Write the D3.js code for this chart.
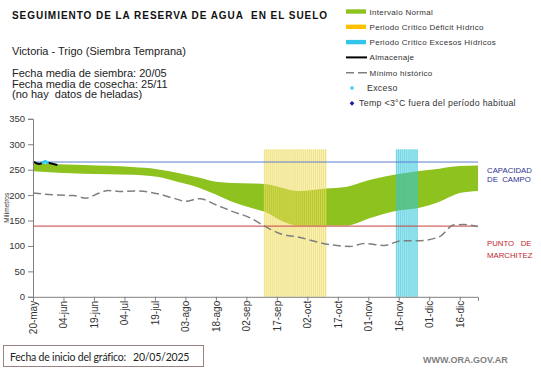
<!DOCTYPE html>
<html>
<head>
<meta charset="utf-8">
<style>
    body {
        margin: 0;
        background: #fff;
    }

    svg {
        display: block;
        font-family: Arial, "Liberation Sans", sans-serif;
    }

    .tick line, .domain {
        stroke: #808080;
    }

    .y .tick text {
        font-size: 9.5px;
        fill: #333;
    }

    .x .tick text {
        font-size: 10px;
        fill: #333;
    }

    .title {
        font-size: 10px;
        font-weight: bold;
        fill: #111;
        letter-spacing: 0.95px;
    }

    .sub {
        font-size: 11px;
        fill: #222;
    }

    .leg {
        font-size: 8px;
        fill: #333;
        letter-spacing: 0.3px;
    }

    .leg.big {
        font-size: 8.8px;
        letter-spacing: 0.3px;
    }

    .side {
        font-size: 7.8px;
    }

    .footer {
        font-family: Lato, "Open Sans", sans-serif;
        font-size: 10.5px;
        fill: #222;
        letter-spacing: -0.2px;
    }

    .web {
        font-size: 9px;
        font-weight: bold;
        fill: #7f7f7f;
    }
</style>
</head>
<body>
<svg width="541" height="368"></svg>

<script src="https://d3js.org/d3.v7.min.js"></script>
<script>
    // dias contados desde el inicio del grafico (20/05/2025)
    let startDate = new Date(2025, 4, 20)
    let endDate = new Date(2025, 11, 25)

    let tickDays = [0, 15, 30, 45, 60, 75, 90, 105, 120, 135, 150, 165, 180, 195, 210]
    let tickLabels = ["20-may", "04-jun", "19-jun", "04-jul", "19-jul", "03-ago", "18-ago",
        "02-sep", "17-sep", "02-oct", "17-oct", "01-nov", "16-nov", "01-dic", "16-dic"]
    let yTicks = [0, 50, 100, 150, 200, 250, 300, 350]

    // intervalo normal
    let bandDays = [0, 25, 49, 61, 72, 82, 90, 98, 108, 116, 121, 131, 144, 154, 166, 179, 189, 200, 210, 219]
    let bandUpper = [262, 259, 255, 251, 243, 234, 226, 224, 223, 221, 216, 208, 213, 216, 230, 241, 247, 252, 257, 258]
    let bandLower = [247, 242, 240, 236, 225, 214, 201, 187, 174, 164, 152, 140, 140, 140, 155, 169, 174, 187, 204, 208]

    // minimo historico
    let minDays = [0, 12, 20, 26, 32, 37, 44, 50, 57, 62, 70, 75, 82, 90, 98, 107, 114, 121, 131, 144, 156, 163, 173, 181, 189, 200, 207, 212, 219]
    let minVals = [204, 200, 199, 194, 203, 209, 207, 208, 206, 202, 193, 188, 193, 181, 168, 155, 139, 125, 117, 104, 99, 105, 101, 110, 110, 118, 141, 142, 138]

    // almacenaje
    let almDays = [0, 1, 2, 3, 4, 5, 6, 7, 8, 9, 10, 11, 12]
    let almVals = [265, 264, 262, 261, 262, 264, 266, 264, 263, 262, 261, 260, 259]

    let excesoDays = [5, 6, 7]
    let excesoVals = [264, 266, 264]

    let capacidad = 265
    let marchitez = 139

    let deficitPeriod = [new Date(2025, 8, 11), new Date(2025, 9, 12)]
    let excesoPeriod = [new Date(2025, 10, 15), new Date(2025, 10, 26)]
    let periodTop = 290

    let svg = d3.select("svg")

    let margin = { top: 119, right: 63, bottom: 71, left: 33 }
    let width = 541
    let height = 368

    let day = d => d3.timeDay.offset(startDate, d)

    let x = d3.scaleTime()
        .domain([startDate, endDate])
        .range([margin.left, width - margin.right])

    let y = d3.scaleLinear()
        .domain([0, 350])
        .range([height - margin.bottom - 0.2, margin.top - 0.2])

    let band = bandDays.map((d, i) => ({ date: day(d), hi: bandUpper[i], lo: bandLower[i] }))
    let minHist = minDays.map((d, i) => ({ date: day(d), v: minVals[i] }))
    let alm = almDays.map((d, i) => ({ date: day(d), v: almVals[i] }))
    let exc = excesoDays.map((d, i) => ({ date: day(d), v: excesoVals[i] }))

    // banda verde
    svg.append("path")
        .datum(band)
        .attr("fill", "#8dc21f")
        .attr("d", d3.area()
            .x(d => x(d.date))
            .y0(d => y(d.lo))
            .y1(d => y(d.hi))
            .curve(d3.curveMonotoneX))

    // periodos criticos, una barra por dia
    function stripes(period, color) {
        let days = d3.timeDay.range(period[0], period[1])
        let w = x(day(1)) - x(startDate)
        let g = svg.append("g")
        g.append("rect")
            .attr("x", x(days[0]) - w / 2)
            .attr("y", y(periodTop))
            .attr("width", w * days.length)
            .attr("height", y(0) - y(periodTop))
            .attr("fill", color)
            .attr("opacity", 0.3)
        g.selectAll(".st")
            .data(days)
            .join("rect")
            .attr("class", "st")
            .attr("x", d => x(d) - 0.6)
            .attr("y", y(periodTop))
            .attr("width", 1.2)
            .attr("height", y(0) - y(periodTop))
            .attr("fill", color)
            .attr("opacity", 0.65)
    }
    stripes(deficitPeriod, "#eedb5c")
    stripes(excesoPeriod, "#34c6dc")

    // capacidad de campo / punto de marchitez
    svg.append("line")
        .attr("x1", x(startDate)).attr("x2", x(endDate))
        .attr("y1", y(capacidad)).attr("y2", y(capacidad))
        .attr("stroke", "#5b7fd0").attr("stroke-width", 1)

    svg.append("line")
        .attr("x1", x(startDate)).attr("x2", x(endDate))
        .attr("y1", y(marchitez)).attr("y2", y(marchitez))
        .attr("stroke", "#c8423e").attr("stroke-width", 1)

    // minimo historico
    svg.append("path")
        .datum(minHist)
        .attr("fill", "none")
        .attr("stroke", "#7f7f7f")
        .attr("stroke-width", 1.5)
        .attr("stroke-dasharray", "8,4")
        .attr("d", d3.line()
            .x(d => x(d.date))
            .y(d => y(d.v))
            .curve(d3.curveMonotoneX))

    // almacenaje
    svg.append("path")
        .datum(alm)
        .attr("fill", "none")
        .attr("stroke", "#000")
        .attr("stroke-width", 2)
        .attr("d", d3.line()
            .x(d => x(d.date))
            .y(d => y(d.v)))

    svg.append("g")
        .selectAll("rect")
        .data(exc)
        .join("rect")
        .attr("x", d => x(d.date) - 1.5)
        .attr("y", d => y(d.v) - 1.5)
        .attr("width", 3)
        .attr("height", 3)
        .attr("fill", "#33ccee")

    // ejes
    let xAxis = svg.append("g")
        .attr("class", "x axis")
        .attr("transform", `translate(0,${y(0)})`)
        .call(d3.axisBottom(x)
            .tickValues(tickDays.map(day))
            .tickFormat((d, i) => tickLabels[i])
            .tickSizeOuter(0)
            .tickSize(4)
            .tickPadding(4))

    xAxis.selectAll(".tick text")
        .attr("transform", "rotate(-90)")
        .attr("text-anchor", "end")
        .attr("x", -4)
        .attr("y", 0)
        .attr("dy", "0.35em")

    svg.append("g")
        .attr("class", "y axis")
        .attr("transform", `translate(${margin.left},0)`)
        .call(d3.axisLeft(y)
            .tickValues(yTicks)
            .tickSizeOuter(0)
            .tickSize(5)
            .tickPadding(3))

    svg.append("text")
        .attr("transform", `translate(9,${y(175)}) rotate(-90)`)
        .attr("text-anchor", "middle")
        .style("font-size", "6.5px")
        .style("fill", "#333")
        .text("Milímetros")

    // textos
    svg.append("text").attr("class", "title").attr("x", 12).attr("y", 19)
        .style("white-space", "pre")
        .text("SEGUIMIENTO DE LA RESERVA DE AGUA  EN EL SUELO")

    svg.append("text").attr("class", "sub").attr("x", 12).attr("y", 54.5)
        .text("Victoria - Trigo (Siembra Temprana)")

    let notes = ["Fecha media de siembra: 20/05", "Fecha media de cosecha: 25/11", "(no hay  datos de heladas)"]
    svg.append("g").selectAll("text")
        .data(notes)
        .join("text")
        .attr("class", "sub")
        .attr("x", 12)
        .attr("y", (d, i) => 77 + i * 10.5)
        .style("white-space", "pre")
        .text(d => d)

    svg.append("text").attr("class", "side").attr("x", 487).attr("y", y(265) + 10.5)
        .style("fill", "#2e3192").text("CAPACIDAD")
    svg.append("text").attr("class", "side").attr("x", 487).attr("y", y(265) + 19.5)
        .style("fill", "#2e3192").style("white-space", "pre").text("DE  CAMPO")
    svg.append("text").attr("class", "side").attr("x", 487).attr("y", y(139) + 19.5)
        .style("fill", "#c0272d").style("white-space", "pre").text("PUNTO   DE")
    svg.append("text").attr("class", "side").attr("x", 487).attr("y", y(139) + 32)
        .style("fill", "#c0272d").text("MARCHITEZ")

    // leyenda
    let leg = svg.append("g").attr("class", "legend")
    let legRows = [
        { label: "Intervalo Normal", type: "bar", color: "#8dc21f" },
        { label: "Periodo Crítico Déficit Hídrico", type: "bar", color: "#ffc000" },
        { label: "Periodo Crítico Excesos Hídricos", type: "bar", color: "#33c4ec" },
        { label: "Almacenaje", type: "line", color: "#000" },
        { label: "Mínimo histórico", type: "dash", color: "#7f7f7f" },
        { label: "Exceso", type: "dot", color: "#33ccee" },
        { label: "Temp <3°C fuera del período habitual", type: "diamond", color: "#1a1aa0" }
    ]
    legRows.forEach(function (r, i) {
        let cy = 11.5 + i * 15.3
        if (r.type == "bar") {
            leg.append("rect").attr("x", 346).attr("y", cy - 2.2).attr("width", 20).attr("height", 4.4).attr("fill", r.color)
        } else if (r.type == "line") {
            leg.append("line").attr("x1", 346).attr("x2", 367).attr("y1", cy).attr("y2", cy)
                .attr("stroke", r.color).attr("stroke-width", 2)
        } else if (r.type == "dash") {
            leg.append("line").attr("x1", 346).attr("x2", 367).attr("y1", cy).attr("y2", cy)
                .attr("stroke", r.color).attr("stroke-width", 1.5).attr("stroke-dasharray", "8,4,5,0")
        } else if (r.type == "dot") {
            leg.append("rect").attr("x", 350.5).attr("y", cy - 1.5).attr("width", 3).attr("height", 3).attr("fill", r.color)
        } else {
            leg.append("path").attr("transform", `translate(352,${cy})`)
                .attr("d", d3.symbol(d3.symbolDiamond2, 14)).attr("fill", r.color)
        }
        let big = r.type == "dot" || r.type == "diamond"
        let tx = r.type == "dot" ? 367 : (r.type == "diamond" ? 359 : 369.5)
        leg.append("text").attr("class", big ? "leg big" : "leg").attr("x", tx).attr("y", cy + 3).text(r.label)
    })

    // pie
    svg.append("rect")
        .attr("x", 3.5).attr("y", 345.5).attr("width", 200).attr("height", 21)
        .attr("fill", "none").attr("stroke", "#9a8282")
    svg.append("text").attr("class", "footer").attr("x", 10).attr("y", 361)
        .text("Fecha de inicio del gráfico:")
    svg.append("text").attr("class", "footer").attr("x", 133).attr("y", 361)
        .text("20/05/2025")
    svg.append("text").attr("class", "web").attr("x", 423).attr("y", 363)
        .text("WWW.ORA.GOV.AR")
</script>
</body>
</html>
